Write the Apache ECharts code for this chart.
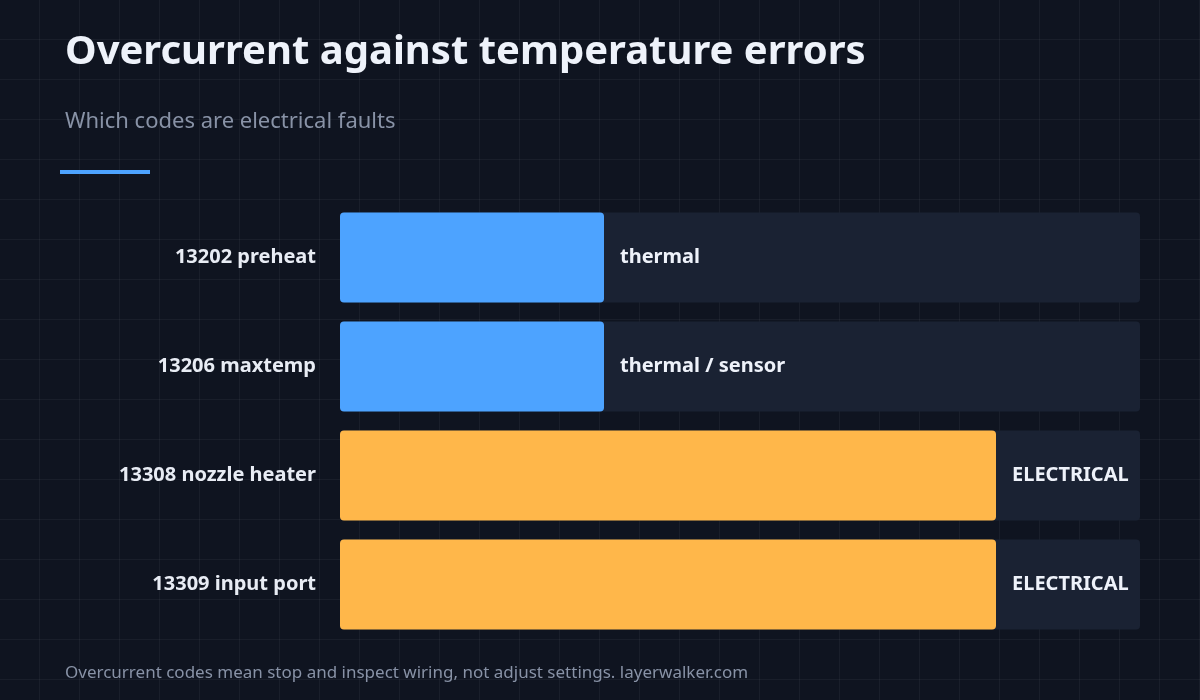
<!DOCTYPE html>
<html><head><meta charset="utf-8">
<script src="https://cdn.jsdelivr.net/npm/echarts@6/dist/echarts.min.js"></script>
<style>
html,body{margin:0;padding:0;background:#0f1420;}
#c{width:1200px;height:700px;background-color:#0f1420;
background-image:linear-gradient(rgba(255,255,255,0.045) 1px,transparent 1px),linear-gradient(90deg,rgba(255,255,255,0.045) 1px,transparent 1px);
background-size:40px 40px;background-position:-1px -1px;}
</style></head><body><div id="c"></div>
<script>
const categories=['13202 preheat','13206 maxtemp','13308 nozzle heater','13309 input port'];
const values=[33,33,82,82];
const labels=['thermal','thermal / sensor','ELECTRICAL','ELECTRICAL'];
const kinds=['thermal','thermal','electrical','electrical'];
const maxValue=100;
const colors={thermal:'#4da3ff',electrical:'#ffb74a'};
const font='"Noto Sans", "Open Sans", sans-serif';
const chart=echarts.init(document.getElementById('c'),null,{renderer:'canvas'});
chart.setOption({
 backgroundColor:'transparent',
 title:[{text:'Overcurrent against temperature errors',left:60,top:28,textStyle:{color:'#eef2fa',fontSize:40,fontWeight:'bold',fontFamily:font}},
        {text:'Which codes are electrical faults',left:60,top:106,textStyle:{color:'#8892a6',fontSize:22,fontWeight:'normal',fontFamily:font}},
        {text:'Overcurrent codes mean stop and inspect wiring, not adjust settings. layerwalker.com',left:60,top:660,textStyle:{color:'#8892a6',fontSize:17,fontWeight:'normal',fontFamily:font}}],
 graphic:[{type:'rect',shape:{x:60,y:170,width:90,height:4},style:{fill:'#4da3ff'}}],
 grid:{left:340,right:60,top:203,bottom:61},
 xAxis:{type:'value',min:0,max:maxValue,show:false},
 yAxis:{type:'category',inverse:true,data:categories,axisLine:{show:false},axisTick:{show:false},
  axisLabel:{color:'#e8ecf4',fontSize:20,fontWeight:'bold',fontFamily:font,margin:24}},
 series:[{type:'bar',data:values.map((v,i)=>({value:v,itemStyle:{color:colors[kinds[i]]},
   label:{formatter:labels[i]}})),
  barWidth:90,
  showBackground:true,backgroundStyle:{color:'#1a2233',borderRadius:4},
  itemStyle:{borderRadius:4},
  label:{show:true,position:'right',distance:16,color:'#eef2fa',fontSize:20,fontWeight:'bold',fontFamily:font}}]
});
</script></body></html>
